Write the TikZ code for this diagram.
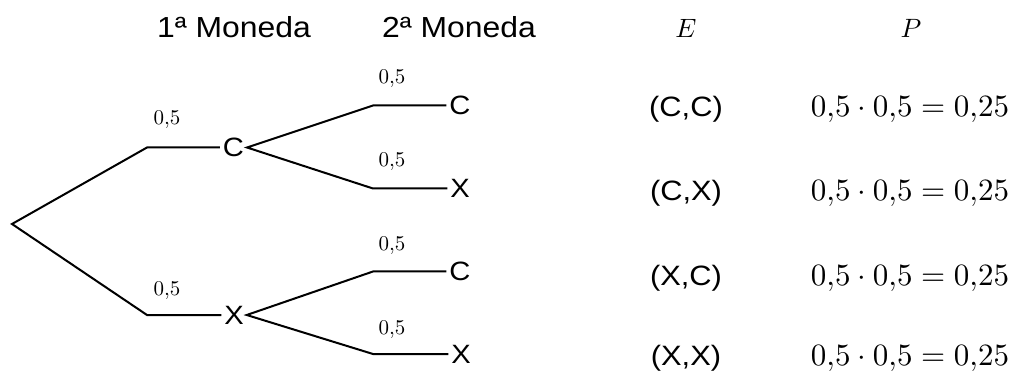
\documentclass[tikz,border=0pt]{standalone}
\usepackage{graphicx}
\usepackage{fontspec}
\newfontfamily\arialfont[FakeStretch=1.1]{Liberation Sans}
\newcommand{\mysc}[2]{\scalebox{#1}{$#2$}}
\begin{document}
\begin{tikzpicture}[x=1pt,y=-1pt,
  branch/.style={line width=2pt, line join=miter},
  leaf/.style={font=\arialfont\fontsize{26.5}{28}\selectfont, inner sep=0pt, outer sep=3pt, anchor=center},
  head/.style={font=\arialfont\fontsize{29}{32}\selectfont, inner sep=0pt, anchor=base},
  ev/.style={font=\arialfont\fontsize{28}{32}\selectfont, inner sep=0pt, anchor=base},
  prob/.style={inner sep=0pt, anchor=base},
  lab/.style={inner sep=0pt, anchor=base},
  mhead/.style={inner sep=0pt, anchor=base}]
\useasboundingbox (0,0) rectangle (1014,371);
% headers
\node[head] (h1) at (234,38) {1ª Moneda};
\node[head] (h2) at (459,38) {2ª Moneda};
\node[mhead] (hE) at (686,38) {\mysc{2.65}{E}};
\node[mhead] (hP) at (911,38) {\mysc{2.65}{P}};
% tree
\coordinate (root) at (12,224);
\coordinate (a1) at (147,147.5);
\coordinate (a2) at (147,315);
\node[leaf] (C1) at (233.5,147.5) {C};
\node[leaf] (X1) at (234,315) {X};
\coordinate (b1) at (373,105.5);
\coordinate (b2) at (373,188.5);
\coordinate (b3) at (373,271.5);
\coordinate (b4) at (373,354);
\node[leaf] (CC) at (460,105.5) {C};
\node[leaf] (CX) at (460,188.5) {X};
\node[leaf] (XC) at (460,271.5) {C};
\node[leaf] (XX) at (461,354) {X};
\draw[branch] (C1.west) -- (a1) -- (root) -- (a2) -- (X1.west);
\draw[branch] (CC.west) -- (b1) -- (C1.east) -- (b2) -- (CX.west);
\draw[branch] (XC.west) -- (b3) -- (X1.east) -- (b4) -- (XX.west);
% labels
\node[lab] (l1) at (167,125) {\mysc{2.1}{0{,}5}};
\node[lab] (l2) at (167,295) {\mysc{2.1}{0{,}5}};
\node[lab] (l3) at (392,84) {\mysc{2.1}{0{,}5}};
\node[lab] (l4) at (392,167) {\mysc{2.1}{0{,}5}};
\node[lab] (l5) at (392,250.5) {\mysc{2.1}{0{,}5}};
\node[lab] (l6) at (392,334) {\mysc{2.1}{0{,}5}};
% events
\node[ev] (e1) at (686,116.7) {(C,C)};
\node[ev] (e2) at (686,201) {(C,X)};
\node[ev] (e3) at (686,285.5) {(X,C)};
\node[ev] (e4) at (686,365) {(X,X)};
% probabilities
\node[prob] (p1) at (910,116.7) {\mysc{3.1}{0{,}5\cdot0{,}5=0{,}25}};
\node[prob] (p2) at (910,201) {\mysc{3.1}{0{,}5\cdot0{,}5=0{,}25}};
\node[prob] (p3) at (910,285.5) {\mysc{3.1}{0{,}5\cdot0{,}5=0{,}25}};
\node[prob] (p4) at (910,365) {\mysc{3.1}{0{,}5\cdot0{,}5=0{,}25}};
\end{tikzpicture}
\end{document}
